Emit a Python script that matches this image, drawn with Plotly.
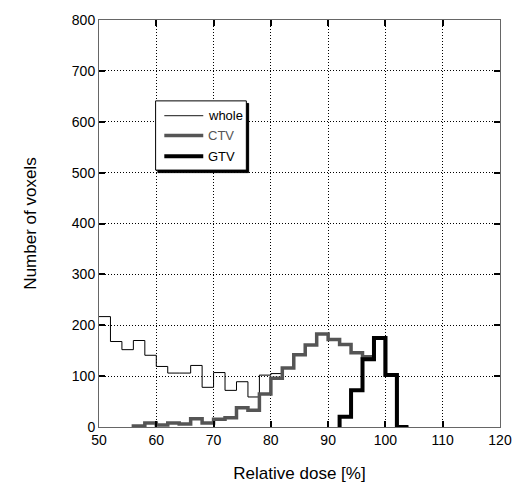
import plotly.graph_objects as go

# ---- data (bin width 2 %) ----
whole_start = 50
whole_counts = [217, 168, 152, 170, 141, 119, 106, 106, 121, 78, 107, 72, 89, 59, 102, 105,
                116, 142, 161, 183, 172, 162, 146, 138, 175, 102, 0]
ctv_start = 56
ctv_counts = [2, 8, 4, 8, 6, 16, 8, 15, 18, 38, 33, 65, 96, 116, 142, 161, 183, 172, 162,
              146, 138, 175, 102, 0]
gtv_start = 92
gtv_counts = [20, 72, 133, 175, 102, 0]
bin_width = 2

x_ticks = [50, 60, 70, 80, 90, 100, 110, 120]
y_ticks = [0, 100, 200, 300, 400, 500, 600, 700, 800]
series_names = ["whole", "CTV", "GTV"]


def step_xy(start, counts, lead_zero):
    edges = [start + i * bin_width for i in range(len(counts) + 1)]
    ys = list(counts) + [counts[-1]]
    if lead_zero:
        return [start] + edges, [0] + ys
    return edges, ys


FONT = "Liberation Sans, Arial, sans-serif"
styles = [dict(color="#000000", width=1), dict(color="#555555", width=3.5),
          dict(color="#000000", width=4)]

fig = go.Figure()
for name, start, counts, lz, st in [
    ("whole", whole_start, whole_counts, False, styles[0]),
    ("CTV", ctv_start, ctv_counts, True, styles[1]),
    ("GTV", gtv_start, gtv_counts, True, styles[2]),
]:
    xs, ys = step_xy(start, counts, lz)
    fig.add_trace(go.Scatter(x=xs, y=ys, mode="lines", line=dict(shape="hv", **st),
                             name=name, showlegend=False, cliponaxis=True))

# ---- manual legend with shadow ----
bx0, bx1, by0, by1 = 59.88, 75.72, 505, 641
shapes = [
    dict(type="rect", xref="x", yref="y", x0=bx0 + 0.4, x1=bx1 + 0.4, y0=by0 - 5, y1=by1 - 5,
         fillcolor="black", line=dict(color="black", width=1), layer="above"),
    dict(type="rect", xref="x", yref="y", x0=bx0, x1=bx1, y0=by0, y1=by1,
         fillcolor="white", line=dict(color="black", width=1), layer="above"),
]
leg_y = [612, 573, 532]
leg_line_colors = ["#444444", "#555555", "#000000"]
leg_line_widths = [1.3, 3.5, 4]
text_colors = ["#000000", "#555555", "#000000"]
annotations = []
for name, lc, lw, ly, tc in zip(series_names, leg_line_colors, leg_line_widths, leg_y, text_colors):
    shapes.append(dict(type="line", xref="x", yref="y", x0=61.4, x1=68.2, y0=ly, y1=ly,
                       line=dict(color=lc, width=lw), layer="above"))
    annotations.append(dict(x=68.6, y=ly, xref="x", yref="y", text=name, showarrow=False,
                            xanchor="left", yanchor="middle",
                            font=dict(family=FONT, size=13, color=tc)))

fig.update_layout(
    width=524, height=495,
    margin=dict(l=99, r=14, t=15, b=68),
    paper_bgcolor="white", plot_bgcolor="white",
    shapes=shapes, annotations=annotations,
    font=dict(family=FONT, size=14, color="#000000"),
    showlegend=False,
)
axis_common = dict(
    showgrid=True, gridcolor="black", griddash="1px,2px", gridwidth=1,
    showline=True, linecolor="#666666", linewidth=1, mirror="ticks",
    ticks="inside", ticklen=6, tickcolor="black", tickwidth=1.5, zeroline=False,
    tickfont=dict(size=14, family=FONT),
)
fig.update_xaxes(
    range=[50, 120], tickvals=x_ticks, ticktext=[str(v) for v in x_ticks],
    title=dict(text="Relative dose [%]", font=dict(size=17, family=FONT), standoff=20),
    **axis_common,
)
fig.update_yaxes(
    range=[0, 800], tickvals=y_ticks, ticktext=[str(v) for v in y_ticks],
    title=dict(text="Number of voxels", font=dict(size=17, family=FONT), standoff=30),
    **axis_common,
)

fig.write_html("out.html")
